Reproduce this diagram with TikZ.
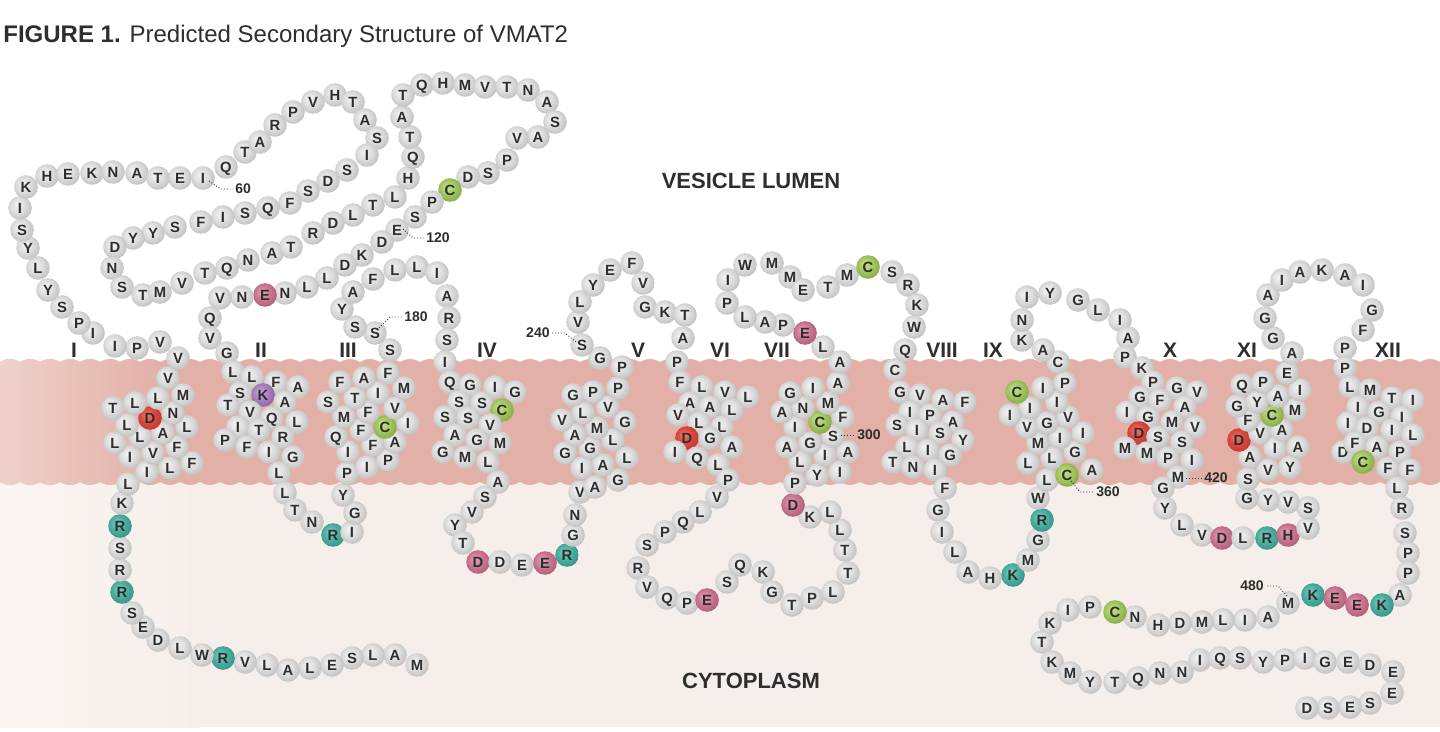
\documentclass[tikz,border=0pt]{standalone}
\usepackage{fontspec}
\setmainfont{Liberation Sans}
\setsansfont{Liberation Sans}
\definecolor{txt}{HTML}{2E2E2E}
\definecolor{mem}{HTML}{E2B0A6}
\definecolor{memL}{HTML}{EFD1CB}
\definecolor{cyto}{HTML}{F6EEEA}
\definecolor{cytoL}{HTML}{FAF6F4}
\definecolor{gA}{HTML}{F4F4F4}\definecolor{gB}{HTML}{DCDCDC}\definecolor{gC}{HTML}{C2C2C2}
\definecolor{rA}{HTML}{F07D70}\definecolor{rB}{HTML}{DA473D}\definecolor{rC}{HTML}{C03A31}
\definecolor{nA}{HTML}{C8E292}\definecolor{nB}{HTML}{A2C65F}\definecolor{nC}{HTML}{88AD4A}
\definecolor{tA}{HTML}{80D0C3}\definecolor{tB}{HTML}{4AAE9F}\definecolor{tC}{HTML}{3A968A}
\definecolor{pA}{HTML}{E6A3B7}\definecolor{pB}{HTML}{C97690}\definecolor{pC}{HTML}{B2607A}
\definecolor{vA}{HTML}{CCA8DC}\definecolor{vB}{HTML}{A780BE}\definecolor{vC}{HTML}{8E68A6}
\pgfdeclareradialshading{resg}{\pgfpoint{-7bp}{7bp}}{color(0bp)=(gA); color(16bp)=(gB); color(28bp)=(gC); color(50bp)=(gC)}
\pgfdeclareradialshading{resr}{\pgfpoint{-7bp}{7bp}}{color(0bp)=(rA); color(16bp)=(rB); color(28bp)=(rC); color(50bp)=(rC)}
\pgfdeclareradialshading{resn}{\pgfpoint{-7bp}{7bp}}{color(0bp)=(nA); color(16bp)=(nB); color(28bp)=(nC); color(50bp)=(nC)}
\pgfdeclareradialshading{rest}{\pgfpoint{-7bp}{7bp}}{color(0bp)=(tA); color(16bp)=(tB); color(28bp)=(tC); color(50bp)=(tC)}
\pgfdeclareradialshading{resp}{\pgfpoint{-7bp}{7bp}}{color(0bp)=(pA); color(16bp)=(pB); color(28bp)=(pC); color(50bp)=(pC)}
\pgfdeclareradialshading{resv}{\pgfpoint{-7bp}{7bp}}{color(0bp)=(vA); color(16bp)=(vB); color(28bp)=(vC); color(50bp)=(vC)}
\tikzset{
  res/.style={circle, minimum size=11.8pt, inner sep=0pt, text=txt,
    font=\bfseries\fontsize{7.4}{7.4}\selectfont, text height=5.3pt, text depth=0pt},
  roman/.style={text=txt, font=\bfseries\fontsize{10.5}{10.5}\selectfont, inner sep=0pt},
  region/.style={text=txt, font=\bfseries\fontsize{11}{11}\selectfont, inner sep=0pt},
  numlab/.style={text=txt, font=\bfseries\fontsize{7}{7}\selectfont, inner sep=1pt},
  leader/.style={txt, densely dotted, line width=0.45pt}
}
\begin{document}
\begin{tikzpicture}[x=0.5pt,y=-0.5pt]
\useasboundingbox (0,0) rectangle (1440,732);
\fill[white] (0,0) rectangle (1440,732);
% cytoplasm
\shade[left color=cytoL, right color=cyto] (0,470) rectangle (200,727);
\fill[cyto] (199,470) rectangle (1440,727);
% membrane
\begin{scope}
\clip plot[domain=0:1440, samples=721] (\x,{362-3*abs(sin(9*\x))}) -- plot[domain=1440:0, samples=721] (\x,{482+3*abs(sin(9*\x))}) -- cycle;
\fill[mem] (0,340) rectangle (1440,500);
\shade[left color=memL, right color=mem] (0,340) rectangle (160,500);
\end{scope}
% title
\node[anchor=base west, inner sep=0pt, text=txt, font=\fontsize{12}{12}\selectfont] (title) at (3,43) {\textbf{FIGURE 1.} Predicted Secondary Structure of VMAT2};
\node[region] (lumen) at (751,181) {VESICLE LUMEN};
\node[region] (cytoplasm) at (751,681) {CYTOPLASM};
% TM numerals
\foreach \x/\t [count=\n] in {74/I,261/II,348/III,487/IV,638/V,720/VI,777/VII,942/VIII,993/IX,1170/X,1247/XI,1388/XII}
  \node[roman] (tm\n) at (\x,350) {\t};
% residues
\foreach \x/\y/\l/\c [count=\n] in {
417/665/M/g,395/655/A/g,373/655/L/g,352/658/S/g,332/665/E/g,310/668/L/g,288/670/A/g,267/665/L/g,245/662/V/g,223/658/R/t,
202/655/W/g,180/648/L/g,158/640/D/g,143/627/E/g,132/613/S/g,122/592/R/t,120/570/R/g,120/548/S/g,120/526/R/t,122/503/K/g,
128/484/L/g,147/472/I/g,170/468/L/g,192/463/F/g,177/447/F/g,153/453/V/g,130/457/I/g,115/443/L/g,140/437/L/g,163/433/A/g,
187/427/L/g,173/413/N/g,150/418/D/r,127/425/L/g,113/408/T/g,135/403/L/g,158/398/L/g,183/395/M/g,168/378/V/g,178/358/V/g,
160/342/V/g,137/348/P/g,115/346/I/g,93/333/I/g,79/323/P/g,62/307/S/g,48/290/Y/g,38/268/L/g,28/248/Y/g,22/230/S/g,
20/208/I/g,26/187/K/g,47/176/H/g,68/174/E/g,92/173/K/g,113/172/N/g,137/173/A/g,158/178/T/g,180/178/E/g,203/178/I/g,
226/167/Q/g,245/152/T/g,260/142/A/g,275/125/R/g,293/112/P/g,313/102/V/g,335/95/H/g,353/102/T/g,365/120/A/g,377/138/S/g,
367/155/I/g,347/170/S/g,328/181/D/g,308/191/S/g,290/203/F/g,268/208/Q/g,245/213/S/g,223/217/I/g,201/222/F/g,175/227/S/g,
153/233/Y/g,133/238/Y/g,115/247/D/g,112/268/N/g,122/287/S/g,143/295/T/g,160/292/M/g,182/283/V/g,205/273/T/g,227/268/Q/g,
248/260/N/g,272/253/A/g,291/247/T/g,313/233/R/g,333/223/D/g,353/215/L/g,373/205/T/g,395/197/L/g,408/178/H/g,413/157/Q/g,
410/137/T/g,402/117/A/g,403/95/T/g,422/85/Q/g,443/83/H/g,465/85/M/g,485/87/V/g,507/87/T/g,528/90/N/g,547/102/A/g,
555/122/S/g,538/137/A/g,517/138/V/g,507/160/P/g,488/173/S/g,468/177/D/g,450/190/C/n,432/202/P/g,415/217/S/g,397/230/E/g,
382/242/D/g,362/255/K/g,345/265/D/g,327/278/L/g,307/287/L/g,285/293/N/g,265/295/E/p,242/297/N/g,220/298/V/g,210/318/Q/g,
210/338/V/g,227/353/G/g,233/372/L/g,252/377/L/g,276/382/F/g,298/387/A/g,240/393/S/g,263/395/K/v,285/402/A/g,228/405/T/g,
250/412/V/g,272/418/Q/g,297/422/L/g,238/427/I/g,259/430/T/g,283/437/R/g,225/440/P/g,247/447/F/g,269/452/I/g,293/457/G/g,
279/473/L/g,285/493/L/g,295/510/T/g,312/522/N/g,333/535/R/t,352/532/I/g,355/513/G/g,343/495/Y/g,347/473/P/g,367/467/I/g,
388/460/P/g,395/442/A/g,373/445/F/g,348/452/I/g,336/437/Q/g,361/430/F/g,385/427/C/n,408/423/I/g,395/408/V/g,368/412/F/g,
344/417/M/g,328/402/S/g,355/398/T/g,378/393/I/g,404/388/M/g,364/378/A/g,340/382/F/g,388/373/F/g,390/350/S/g,375/333/S/g,
355/327/S/g,342/309/Y/g,353/292/A/g,373/279/F/g,395/270/L/g,417/267/L/g,437/273/I/g,447/296/A/g,449/318/R/g,447/340/S/g,
445/362/I/g,450/382/Q/g,470/385/G/g,495/387/I/g,515/392/G/g,459/402/S/g,482/403/S/g,502/410/C/n,445/417/S/g,468/418/S/g,
490/425/V/g,455/435/A/g,477/440/G/g,500/443/M/g,443/452/G/g,465/457/M/g,488/462/L/g,498/482/A/g,485/497/S/g,472/512/V/g,
455/525/Y/g,463/543/T/g,478/562/D/p,500/562/D/g,522/565/E/g,545/563/E/p,567/555/R/t,573/535/G/g,575/515/N/g,580/492/V/g,
595/487/A/g,618/480/G/g,627/458/L/g,603/465/A/g,582/468/I/g,565/453/G/g,590/448/G/g,613/440/L/g,625/422/G/g,597/428/M/g,
575/435/A/g,562/420/V/g,583/413/L/g,608/407/V/g,573/395/G/g,593/392/P/g,618/388/P/g,622/367/P/g,600/358/G/g,582/345/S/g,
578/322/V/g,580/302/L/g,593/285/Y/g,610/270/E/g,632/263/F/g,643/283/V/g,645/307/G/g,665/312/K/g,685/315/T/g,683/338/A/g,
677/362/P/g,680/382/F/g,702/387/L/g,725/392/V/g,748/397/L/g,690/403/A/g,710/407/A/g,732/410/L/g,678/415/V/g,699/423/L/g,
722/427/L/g,687/438/D/r,710/438/G/g,732/447/A/g,675/452/I/g,697/458/Q/g,718/465/L/g,728/480/P/g,717/497/V/g,700/512/L/g,
683/522/Q/g,665/532/P/g,647/545/S/g,638/568/R/g,647/587/V/g,667/598/Q/g,687/603/P/g,707/600/E/p,727/582/S/g,740/565/Q/g,
763/572/K/g,772/592/G/g,792/605/T/g,812/598/P/g,833/592/L/g,848/573/T/g,845/550/T/g,840/530/L/g,830/512/L/g,810/517/K/g,
793/505/D/p,795/483/P/g,817/475/Y/g,840/472/I/g,848/452/A/g,825/455/I/g,800/462/L/g,787/447/A/g,810/443/G/g,833/436/S/g,
820/422/C/n,795/427/I/g,843/417/F/g,782/412/A/g,803/408/N/g,828/403/M/g,790/393/G/g,813/388/I/g,838/383/A/g,840/362/A/g,
823/347/L/g,805/333/E/p,783/325/P/g,765/322/A/g,745/317/L/g,727/303/P/g,728/280/I/g,745/265/W/g,772/263/M/g,790/277/M/g,
803/290/E/g,828/287/T/g,847/275/M/g,868/267/C/n,892/272/S/g,908/285/R/g,917/305/K/g,914/327/W/g,905/350/Q/g,895/370/C/g,
900/392/G/g,920/395/V/g,943/400/A/g,965/402/F/g,910/412/I/g,930/415/P/g,953/422/A/g,897/425/S/g,917/430/I/g,940/433/S/g,
963/440/Y/g,907/447/L/g,928/450/I/g,950/455/G/g,893/462/T/g,913/467/N/g,935/470/I/g,945/488/F/g,938/510/G/g,942/532/I/g,
955/552/L/g,968/572/A/g,990/578/H/g,1013/575/K/t,1028/560/M/g,1038/540/G/g,1042/520/R/t,1038/498/W/g,1047/480/L/g,1067/475/C/n,
1092/470/A/g,1075/452/G/g,1083/433/I/g,1060/438/I/g,1052/458/L/g,1028/463/L/g,1038/443/M/g,1027/427/V/g,1047/423/G/g,1068/417/V/g,
1030/408/I/g,1010/415/I/g,1057/402/I/g,1017/392/C/n,1043/388/I/g,1065/383/P/g,1058/362/C/g,1043/350/A/g,1022/340/K/g,1022/320/N/g,
1027/297/I/g,1050/293/Y/g,1078/300/G/g,1098/310/L/g,1120/320/I/g,1128/338/A/g,1125/357/P/g,1142/368/K/g,1153/382/P/g,1177/388/G/g,
1197/392/V/g,1140/397/G/g,1160/400/F/g,1185/407/A/g,1127/412/I/g,1148/417/G/g,1172/422/M/g,1195/427/V/g,1139/433/D/r,1158/437/S/g,
1182/442/S/g,1125/448/M/g,1147/453/M/g,1168/458/P/g,1192/460/I/g,1178/477/M/g,1163/488/G/g,1165/508/Y/g,1182/525/L/g,1202/535/V/g,
1222/538/D/p,1243/538/L/g,1267/538/R/t,1288/535/H/p,1308/528/V/g,1308/508/S/g,1288/502/V/g,1268/500/Y/g,1247/498/G/g,1248/479/S/g,
1268/470/V/g,1290/467/Y/g,1250/457/A/g,1275/448/I/g,1298/447/A/g,1239/440/D/r,1260/433/V/g,1282/430/A/g,1248/420/F/g,1272/415/C/n,
1295/410/M/g,1237/406/G/g,1257/402/Y/g,1278/396/A/g,1300/390/I/g,1242/385/Q/g,1263/382/P/g,1287/373/E/g,1292/353/A/g,1273/338/G/g,
1265/318/G/g,1268/295/A/g,1282/280/I/g,1300/272/A/g,1322/270/K/g,1345/275/A/g,1363/285/I/g,1372/310/G/g,1363/330/F/g,1345/348/P/g,
1345/368/P/g,1350/387/L/g,1370/390/M/g,1392/398/T/g,1413/400/I/g,1358/407/I/g,1379/412/G/g,1402/417/I/g,1348/423/I/g,1367/428/D/g,
1392/430/I/g,1413/435/L/g,1343/452/D/g,1355/443/F/g,1377/447/A/g,1400/452/P/g,1363/462/C/n,1388/468/F/g,1410/470/F/g,1397/488/L/g,
1402/508/R/g,1405/533/S/g,1408/553/P/g,1408/573/P/g,1400/595/A/g,1382/605/K/t,1357/605/E/p,1335/598/E/p,1313/595/K/t,1288/603/M/g,
1268/617/A/g,1245/620/I/g,1223/620/L/g,1202/622/M/g,1180/623/D/g,1158/625/H/g,1135/617/N/g,1115/612/C/n,1090/607/P/g,1068/610/I/g,
1050/623/K/g,1042/642/T/g,1052/662/K/g,1070/673/M/g,1090/682/Y/g,1115/682/T/g,1138/678/Q/g,1160/673/N/g,1182/672/N/g,1200/660/I/g,
1220/658/Q/g,1240/658/S/g,1263/662/Y/g,1285/660/P/g,1305/658/I/g,1325/662/G/g,1348/662/E/g,1370/665/D/g,1393/672/E/g,1392/693/E/g,
1370/703/S/g,1350/707/E/g,1328/708/S/g,1307/708/D/g}
  \node[res, shading=res\c] (r\n) at (\x,\y) {\l};
% position labels with dotted leaders
\coordinate (c60) at (209,181);   \coordinate (b60) at (221,189);
\node[numlab, anchor=west] (l60) at (233,189) {60};
\draw[leader] (c60) -- (b60) -- (l60.west);
\coordinate (c120) at (403,229);  \coordinate (b120) at (413,238);
\node[numlab, anchor=west] (l120) at (424,238) {120};
\draw[leader] (c120) -- (b120) -- (l120.west);
\coordinate (c180) at (379,328);  \coordinate (b180) at (390,317);
\node[numlab, anchor=west] (l180) at (402,317) {180};
\draw[leader] (c180) -- (b180) -- (l180.west);
\coordinate (c240) at (576,342);  \coordinate (b240) at (565,333);
\node[numlab, anchor=east] (l240) at (552,333) {240};
\draw[leader] (c240) -- (b240) -- (l240.east);
\coordinate (c300) at (841,435);
\node[numlab, anchor=west] (l300) at (855,435) {300};
\draw[leader] (c300) -- (l300.west);
\coordinate (c360) at (1071,481); \coordinate (b360) at (1080,492);
\node[numlab, anchor=west] (l360) at (1094,492) {360};
\draw[leader] (c360) -- (b360) -- (l360.west);
\coordinate (c420) at (1186,478);
\node[numlab, anchor=west] (l420) at (1202,478) {420};
\draw[leader] (c420) -- (l420.west);
\coordinate (c480) at (1287,596); \coordinate (b480) at (1278,586);
\node[numlab, anchor=east] (l480) at (1266,586) {480};
\draw[leader] (c480) -- (b480) -- (l480.east);
\end{tikzpicture}
\end{document}
